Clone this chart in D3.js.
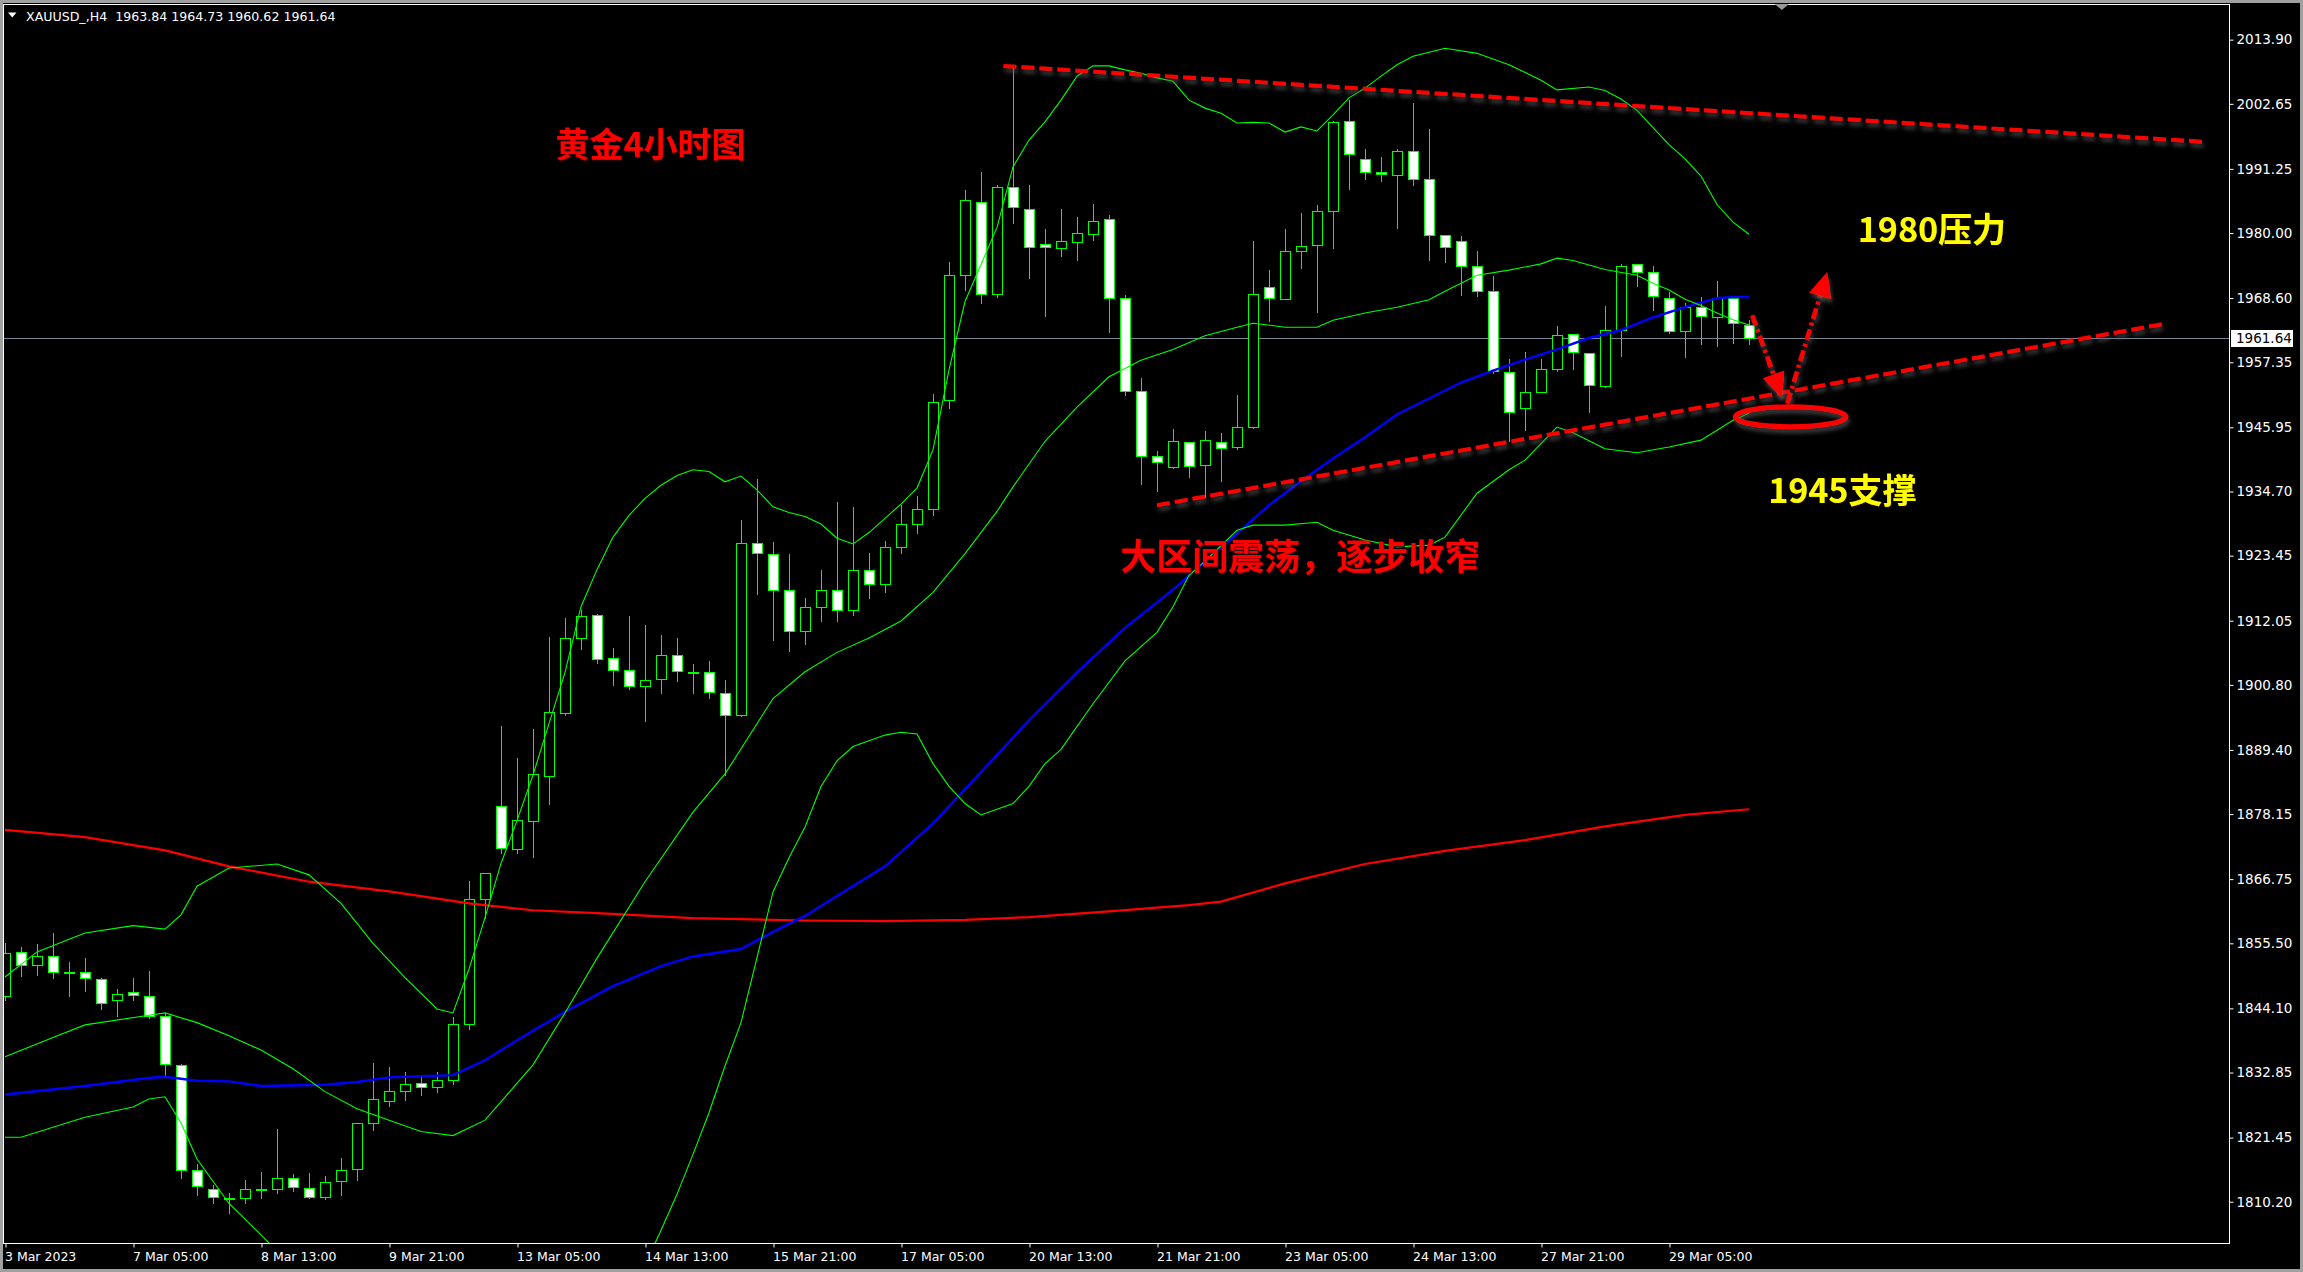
<!DOCTYPE html>
<html><head><meta charset="utf-8">
<script src="https://cdn.jsdelivr.net/npm/d3@7"></script>
<style>
html,body{margin:0;padding:0;background:#a0a0a0;overflow:hidden;}
svg{display:block;}
</style></head><body>
<svg id="c" width="2303" height="1272"></svg>
<script>
// ---------------- DATA ----------------
const symbolInfo = "XAUUSD_,H4  1963.84 1964.73 1960.62 1961.64";
const lastPrice = 1961.64;

const opens = [1846.3,1854.0,1851.65,1853.2,1850.4,1850.4,1849.2,1845.6,1846.9,1846.2,
1842.7,1834.1,1815.7,1812.4,1810.9,1810.8,1812.4,1812.4,1814.3,1812.6,
1811.0,1813.8,1815.9,1823.95,1827.9,1829.6,1831.0,1830.3,1831.5,1841.4,
1863.2,1879.5,1872.0,1877.0,1884.9,1895.9,1909.1,1913.0,1905.5,1903.35,
1900.55,1901.8,1906.0,1903.1,1903.0,1899.3,1895.6,1925.6,1923.7,1917.5,
1910.3,1914.5,1917.5,1914.0,1921.0,1918.5,1925.0,1929.0,1931.7,1950.7,
1972.6,1985.4,1969.4,1988.0,1984.3,1978.0,1977.3,1978.5,1979.9,1982.4,
1968.55,1952.4,1941.0,1939.05,1943.3,1939.3,1943.4,1942.55,1945.95,1970.5,
1968.5,1976.8,1977.85,1983.9,1999.6,1992.9,1990.65,1990.2,1994.3,1989.4,
1979.6,1978.55,1974.2,1969.8,1955.6,1949.3,1952.2,1956.2,1962.25,1958.9,
1953.25,1963.0,1974.5,1973.2,1968.7,1962.8,1967.0,1965.2,1968.7,1963.84];
const highs = [1855.5,1854.9,1855.3,1857.3,1852.2,1852.9,1849.5,1847.5,1849.4,1850.65,
1843.2,1834.35,1816.8,1813.1,1811.7,1814.0,1815.4,1822.9,1815.1,1815.2,
1814.7,1817.9,1824.0,1834.5,1833.8,1833.0,1832.5,1833.0,1842.5,1866.4,
1867.8,1893.6,1887.9,1893.1,1909.2,1912.5,1913.9,1913.3,1907.2,1912.9,
1911.3,1909.6,1909.1,1904.5,1905.0,1901.6,1929.7,1936.9,1925.8,1923.7,
1916.0,1921.0,1932.9,1931.9,1924.0,1926.0,1932.3,1933.9,1951.8,1974.9,
1987.5,1990.7,1988.5,2009.3,1988.4,1980.7,1984.2,1982.8,1985.1,1983.2,
1969.1,1954.65,1941.85,1945.65,1943.3,1945.3,1944.9,1951.6,1978.55,1973.5,
1980.7,1983.5,1984.9,1999.6,2003.3,1994.7,1993.3,1994.7,2002.8,1998.2,
1979.6,1979.4,1976.9,1972.4,1957.9,1959.1,1957.9,1963.65,1962.3,1958.9,
1967.2,1974.5,1974.5,1974.2,1969.7,1967.7,1968.85,1971.6,1968.7,1964.73];
const lows = [1845.6,1849.8,1849.95,1849.5,1846.2,1847.2,1843.9,1842.8,1845.5,1842.4,
1832.1,1814.4,1811.3,1810.05,1808.2,1810.05,1810.8,1811.7,1812.0,1810.8,
1810.6,1811.45,1814.1,1822.7,1827.05,1828.0,1829.0,1829.5,1830.8,1840.5,
1859.9,1871.3,1871.4,1870.6,1880.0,1895.5,1907.1,1904.7,1900.7,1900.0,
1894.5,1899.4,1901.5,1899.3,1898.5,1885.0,1895.4,1916.7,1908.6,1906.8,
1908.0,1912.0,1912.0,1913.0,1916.0,1917.0,1924.0,1927.5,1930.5,1949.4,
1970.0,1967.8,1968.8,1981.8,1972.2,1965.5,1975.9,1975.2,1978.8,1962.7,
1951.6,1936.0,1934.8,1938.9,1937.3,1933.8,1936.6,1942.1,1945.9,1964.6,
1968.5,1973.9,1966.2,1977.4,1987.7,1989.5,1989.2,1980.95,1988.5,1975.3,
1975.0,1969.1,1969.0,1955.5,1943.6,1945.5,1952.2,1955.9,1956.2,1948.7,
1953.1,1958.45,1970.8,1966.5,1962.5,1958.3,1960.55,1960.2,1960.8,1960.62];
const closes = [1853.75,1851.65,1853.2,1850.4,1850.4,1849.4,1845.0,1846.7,1846.4,1842.8,
1834.3,1815.7,1812.9,1811.0,1810.9,1812.4,1812.4,1814.3,1812.7,1811.0,
1813.7,1815.7,1823.95,1828.2,1829.6,1830.8,1830.3,1831.5,1841.4,1863.2,
1867.8,1872.2,1877.1,1885.2,1896.0,1909.1,1912.8,1905.3,1903.4,1900.55,
1901.6,1906.0,1903.2,1903.1,1899.5,1895.6,1925.6,1923.9,1917.5,1910.3,
1914.5,1917.5,1914.0,1921.0,1918.5,1925.0,1929.0,1931.7,1950.3,1972.6,
1985.8,1969.3,1988.0,1984.6,1977.6,1977.5,1978.55,1979.95,1982.2,1968.55,
1952.3,1941.0,1939.9,1943.5,1939.2,1943.7,1942.4,1946.05,1969.4,1968.7,
1976.8,1977.8,1983.9,1999.4,1993.8,1990.65,1990.3,1994.3,1989.4,1979.6,
1977.5,1974.2,1969.8,1955.8,1948.6,1952.2,1956.1,1962.2,1959.1,1953.4,
1963.0,1974.3,1973.2,1968.9,1962.8,1967.0,1965.4,1968.7,1964.2,1961.64];

const timeTickBars = [0,8,16,24,32,40,48,56,64,72,80,88,96,104];
const timeTickLabels = ["3 Mar 2023","7 Mar 05:00","8 Mar 13:00","9 Mar 21:00","13 Mar 05:00",
"14 Mar 13:00","15 Mar 21:00","17 Mar 05:00","20 Mar 13:00","21 Mar 21:00","23 Mar 05:00",
"24 Mar 13:00","27 Mar 21:00","29 Mar 05:00"];
const priceTicks = [2013.90,2002.65,1991.25,1980.00,1968.60,1957.35,1945.95,1934.70,1923.45,
1912.05,1900.80,1889.40,1878.15,1866.75,1855.50,1844.10,1832.85,1821.45,1810.20];

// indicator lines: [bar, price]
const bbUpper = [[0,1849.6],[2,1854.0],[5,1857.3],[8,1858.6],[10,1858.0],[11,1860.5],[12,1865.5],[14,1868.7],[17,1869.4],[19,1867.5],[21,1862.5],[23,1855.5],[25,1849.5],[27,1844.0],[28,1843.3],[29,1851.0],[30,1860.0],[31,1869.5],[32,1877.0],[33,1885.0],[34,1894.0],[35,1903.0],[36,1914.5],[37,1921.0],[38,1926.7],[39,1930.5],[40,1933.5],[41,1935.8],[42,1937.5],[43,1938.5],[44,1938.2],[45,1936.4],[46,1937.4],[47,1935.0],[48,1932.0],[49,1931.0],[50,1930.3],[51,1929.0],[52,1926.5],[53,1925.5],[54,1927.5],[55,1930.0],[56,1932.5],[57,1935.3],[58,1942.0],[59,1956.0],[60,1968.0],[61,1974.5],[62,1981.0],[63,1991.6],[64,1996.3],[65,1999.5],[66,2003.3],[67,2007.5],[68,2009.3],[69,2009.3],[70,2008.6],[71,2008.0],[72,2007.2],[73,2006.6],[74,2003.3],[75,2001.9],[76,2001.0],[77,1999.3],[78,1999.4],[79,1999.3],[80,1997.7],[81,1998.6],[82,1997.9],[83,2000.7],[84,2003.7],[85,2005.4],[86,2007.5],[87,2009.5],[88,2011.0],[90,2012.4],[92,2011.5],[94,2009.5],[96,2006.8],[97,2005.1],[99,2005.6],[100,2005.0],[101,2003.5],[102,2001.5],[103,1998.5],[104,1995.5],[105,1993.0],[106,1990.0],[107,1985.0],[108,1981.9],[109,1979.8]];
const bbMiddle = [[0,1835.6],[3,1839.0],[5,1841.2],[9,1842.9],[10,1843.3],[12,1841.6],[14,1839.3],[16,1836.8],[18,1833.5],[20,1829.5],[22,1826.5],[24,1824.5],[26,1822.5],[28,1821.8],[30,1824.5],[33,1834.2],[35,1843.3],[37,1852.9],[40,1866.3],[43,1878.5],[45,1885.2],[48,1898.4],[50,1903.1],[52,1906.5],[54,1909.0],[56,1912.0],[58,1917.0],[60,1923.8],[62,1931.2],[63,1935.5],[65,1943.5],[67,1949.5],[69,1954.8],[71,1957.7],[73,1959.6],[75,1962.0],[77,1963.5],[78,1964.2],[80,1963.5],[82,1963.5],[83,1964.7],[85,1966.0],[87,1967.0],[89,1968.3],[90,1969.8],[92,1972.6],[94,1973.5],[96,1974.6],[97,1975.6],[98,1975.2],[100,1973.6],[102,1972.6],[103,1971.2],[104,1970.0],[105,1968.4],[106,1967.3],[107,1966.0],[108,1964.8],[109,1963.9]];
const bbLower = [[0,1821.5],[1,1821.5],[5,1825.0],[8,1826.8],[9,1828.2],[10,1828.6],[11,1824.0],[12,1817.7],[14,1809.9],[16,1804.4],[17,1801.6],[18,1798.0],[20,1791.0],[22,1790.0],[24,1797.0],[26,1797.5],[28,1800.3],[29,1794.0],[30,1789.0],[32,1782.0],[34,1781.0],[36,1782.0],[38,1789.0],[40,1799.1],[41,1805.2],[42,1811.5],[43,1818.5],[44,1825.8],[45,1834.0],[46,1841.6],[47,1853.0],[48,1864.5],[49,1870.5],[50,1875.9],[51,1883.0],[52,1887.5],[53,1890.0],[54,1891.0],[55,1892.0],[56,1892.5],[57,1892.2],[58,1887.0],[59,1883.0],[60,1880.0],[61,1878.0],[62,1879.0],[63,1880.0],[64,1883.0],[65,1887.0],[66,1889.5],[68,1897.5],[70,1905.0],[72,1910.0],[73,1914.5],[74,1920.0],[75,1922.5],[77,1927.9],[78,1928.8],[80,1928.8],[82,1929.3],[83,1927.9],[85,1926.2],[87,1925.0],[89,1925.3],[90,1926.7],[92,1934.4],[94,1938.5],[95,1940.2],[97,1946.0],[98,1945.0],[100,1942.2],[102,1941.5],[104,1942.5],[106,1943.7],[108,1947.2],[109,1948.4]];
const maBlue = [[0,1829.0],[5,1830.5],[9,1831.9],[10,1832.1],[12,1831.4],[14,1831.3],[16,1830.5],[20,1830.7],[22,1831.2],[24,1832.0],[26,1832.2],[28,1832.4],[30,1835.0],[32,1838.5],[35,1843.5],[38,1848.0],[41,1851.5],[43,1853.2],[46,1854.5],[48,1857.5],[50,1860.3],[52,1863.8],[55,1869.0],[58,1876.5],[61,1885.5],[64,1894.6],[67,1903.0],[70,1910.8],[73,1917.5],[77,1927.3],[79,1932.3],[81,1936.5],[83,1940.5],[85,1944.2],[87,1948.2],[89,1951.0],[91,1953.8],[93,1955.9],[95,1957.8],[97,1959.6],[99,1961.6],[101,1963.0],[103,1965.2],[105,1967.0],[107,1968.6],[108,1968.8],[109,1968.8]];
const maRed = [[0,1875.4],[5,1874.1],[10,1871.8],[14,1869.0],[19,1866.3],[24,1864.6],[29,1862.5],[33,1861.3],[37,1860.8],[43,1859.9],[50,1859.5],[55,1859.4],[60,1859.6],[64,1860.1],[69,1861.1],[74,1862.2],[76,1862.8],[80,1866.0],[85,1869.4],[90,1871.7],[95,1873.6],[100,1876.0],[105,1878.0],[109,1879.0]];

// annotations (bar, price)
const trendTop = [[62.4,2009.3],[137.4,1996.0]];
const trendBottom = [[72.0,1932.3],[134.9,1964.06]];
const resistanceLine = [[99.3,1975.28],[139.0,1975.28]];
const arrowDown = [[109.2,1965.6],[111.06,1951.1]];
const arrowUp = [[111.4,1950.2],[113.9,1973.2]];
const supportMark = {bar:111.6, price:1947.8};
const notes = [
  {text:"黄金4小时图", bar:34.4, price:1995.9, color:"#ff0000", size:34},
  {text:"大区间震荡，逐步收窄", bar:69.7, price:1923.8, color:"#ff0000", size:36},
  {text:"1980压力", bar:115.8, price:1980.9, color:"#ffff00", size:34},
  {text:"1945支撑", bar:110.2, price:1935.3, color:"#ffff00", size:34}
];

// ---------------- DRAW ----------------
const svg = d3.select("#c");
const P = {left:3, top:4, right:2229, bottom:1243};
const x = d3.scaleLinear().domain([0,109]).range([5,1749]);
const y = d3.scaleLinear().domain([1802.97,2020.15]).range([P.bottom,P.top]);
const GREEN = "#00ff00";

const defs = svg.append("defs");
defs.append("clipPath").attr("id","plotclip").append("rect")
  .attr("x",P.left).attr("y",P.top).attr("width",P.right-P.left).attr("height",P.bottom-P.top);
const sh = defs.append("filter").attr("id","shadow").attr("x","-10%").attr("y","-50%").attr("width","120%").attr("height","200%");
sh.append("feDropShadow").attr("dx",1.5).attr("dy",4).attr("stdDeviation",2)
  .attr("flood-color","#5a5a5a").attr("flood-opacity",0.7);
const tsh = defs.append("filter").attr("id","tshadow");
tsh.append("feDropShadow").attr("dx",1).attr("dy",1).attr("stdDeviation",0.6)
  .attr("flood-color","#300").attr("flood-opacity",0.8);

// black canvas
svg.append("rect").attr("x",3).attr("y",3).attr("width",2297).attr("height",1266).attr("fill","#000");

const plot = svg.append("g").attr("clip-path","url(#plotclip)");

// bid line
plot.append("line").attr("x1",P.left).attr("x2",P.right)
  .attr("y1",Math.round(y(lastPrice))+0.5).attr("y2",Math.round(y(lastPrice))+0.5)
  .attr("stroke","#778899").attr("stroke-width",1);

// candles
const idx = d3.range(opens.length);
const cx = i => Math.round(x(i)) + 0.5;
plot.append("g").selectAll("line").data(idx).join("line")
  .attr("x1",cx).attr("x2",cx)
  .attr("y1",i=>Math.round(y(highs[i]))).attr("y2",i=>Math.round(y(lows[i]))+1)
  .attr("stroke",GREEN).attr("stroke-width",1).attr("shape-rendering","crispEdges");
plot.append("g").selectAll("rect").data(idx).join("rect")
  .attr("x",i=>cx(i)-5).attr("width",10)
  .attr("y",i=>Math.round(y(Math.max(opens[i],closes[i])))+0.5)
  .attr("height",i=>Math.max(1,Math.round(y(Math.min(opens[i],closes[i])))-Math.round(y(Math.max(opens[i],closes[i])))))
  .attr("fill",i=>closes[i]<opens[i]?"#ffffff":"#000000")
  .attr("stroke",GREEN).attr("stroke-width",1).attr("shape-rendering","crispEdges");

// indicator lines
const ln = d3.line().x(d=>x(d[0])).y(d=>y(d[1]));
plot.append("path").attr("d",ln(maRed)).attr("fill","none").attr("stroke","#ff0000").attr("stroke-width",2.2);
plot.append("path").attr("d",ln(maBlue)).attr("fill","none").attr("stroke","#0000ff").attr("stroke-width",2.4);
[bbUpper,bbMiddle,bbLower].forEach(s=>{
  plot.append("path").attr("d",ln(s)).attr("fill","none").attr("stroke",GREEN).attr("stroke-width",1.1);
});

// annotations
const ann = svg.append("g").attr("clip-path","url(#plotclip)");
ann.append("path").attr("d",ln(trendTop)).attr("stroke","#ff0000").attr("stroke-width",4)
  .attr("stroke-dasharray","13,5").attr("fill","none").attr("filter","url(#shadow)");
ann.append("path").attr("d",ln(trendBottom)).attr("stroke","#ff0000").attr("stroke-width",4)
  .attr("stroke-dasharray","13,5").attr("fill","none").attr("filter","url(#shadow)");
ann.append("path").attr("d",ln(resistanceLine)).attr("stroke","#ffff00").attr("stroke-width",4)
  .attr("stroke-dasharray","12,4").attr("fill","none").attr("filter","url(#shadow)");

function arrow(pts){
  const x0=x(pts[0][0]), y0=y(pts[0][1]), x1=x(pts[1][0]), y1=y(pts[1][1]);
  const dx=x1-x0, dy=y1-y0, L=Math.hypot(dx,dy), ux=dx/L, uy=dy/L;
  const hl=25, hw=11.5;
  const bx=x1-ux*hl, by=y1-uy*hl;
  ann.append("line").attr("x1",x0).attr("y1",y0).attr("x2",bx+ux*2).attr("y2",by+uy*2)
    .attr("stroke","#ff0000").attr("stroke-width",4.5).attr("stroke-dasharray","11,4,3,4")
    .attr("filter","url(#shadow)");
  ann.append("path").attr("d",`M${x1},${y1}L${bx-uy*hw},${by+ux*hw}L${bx+uy*hw},${by-ux*hw}Z`)
    .attr("fill","#ff0000").attr("filter","url(#shadow)");
}
arrow(arrowDown); arrow(arrowUp);

ann.append("ellipse").attr("cx",x(supportMark.bar)).attr("cy",y(supportMark.price))
  .attr("rx",x(3.45)-x(0)).attr("ry",y(supportMark.price-1.75)-y(supportMark.price))
  .attr("fill","none").attr("stroke","#ff0000").attr("stroke-width",5).attr("filter","url(#shadow)");

svg.append("g").selectAll("text").data(notes).join("text")
  .attr("x",d=>x(d.bar)).attr("y",d=>y(d.price))
  .attr("dominant-baseline","central")
  .attr("font-family","'Noto Sans CJK SC','Noto Sans',sans-serif")
  .attr("font-weight","bold")
  .attr("font-size",d=>d.size).attr("fill",d=>d.color)
  .attr("filter","url(#tshadow)")
  .text(d=>d.text);

// border
svg.append("rect").attr("x",P.left+0.5).attr("y",P.top+0.5)
  .attr("width",P.right-P.left).attr("height",P.bottom-P.top)
  .attr("fill","none").attr("stroke","#ffffff").attr("stroke-width",1).attr("shape-rendering","crispEdges");

// y axis
const yAxis = svg.append("g").attr("transform",`translate(${P.right+0.5},0)`)
  .call(d3.axisRight(y).tickValues(priceTicks).tickFormat(d3.format(".2f")).tickSize(4).tickPadding(3));
yAxis.select(".domain").remove();
yAxis.selectAll("line").attr("stroke","#fff");
yAxis.selectAll("text").attr("fill","#fff").attr("font-family","'DejaVu Sans',sans-serif").attr("font-size",13.5);

// last price label
const ly = y(lastPrice);
svg.append("rect").attr("x",P.right+2).attr("y",Math.round(ly)-8).attr("width",62).attr("height",17).attr("fill","#fff");
svg.append("text").attr("x",P.right+7).attr("y",ly+0.5).attr("dominant-baseline","central")
  .attr("font-family","'DejaVu Sans',sans-serif").attr("font-size",13.5).attr("fill","#000")
  .text(d3.format(".2f")(lastPrice));

// x axis
const xAxis = svg.append("g").attr("transform",`translate(0.5,${P.bottom+0.5})`)
  .call(d3.axisBottom(x).tickValues(timeTickBars).tickFormat((d,i)=>timeTickLabels[i]).tickSize(4).tickPadding(5));
xAxis.select(".domain").remove();
xAxis.selectAll("line").attr("stroke","#fff");
xAxis.selectAll("text").attr("fill","#fff").attr("text-anchor","start").attr("dx",-1)
  .attr("font-family","'DejaVu Sans',sans-serif").attr("font-size",12.5);

// header
svg.append("path").attr("d","M8,12.5L16.5,12.5L12.25,17.5Z").attr("fill","#fff");
svg.append("text").attr("x",26).attr("y",20.5).attr("fill","#fff")
  .attr("font-family","'DejaVu Sans',sans-serif").attr("font-size",12.6)
  .attr("xml:space","preserve").style("white-space","pre").text(symbolInfo);

// chart-shift marker
svg.append("path").attr("d",`M${x(110.6)},4L${x(111.5)},4L${x(111.05)},10Z`).attr("fill","#9a9a9a");
</script>
</body></html>
